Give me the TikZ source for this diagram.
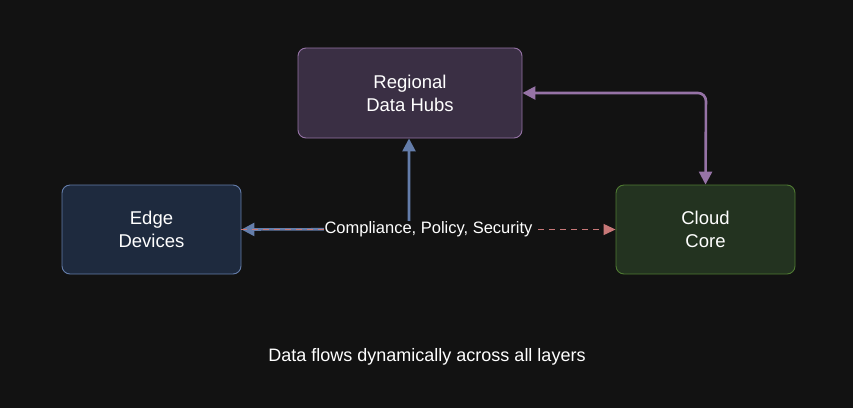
\documentclass[tikz,border=0pt]{standalone}
\usepackage{fontspec}
\setmainfont{Liberation Sans}
\usetikzlibrary{arrows.meta}
\definecolor{bg}{HTML}{121212}
\begin{document}
\begin{tikzpicture}[x=1pt,y=-1pt,
  box/.style={draw,rounded corners=8pt,line width=0.9pt,text=white,align=center,font=\fontsize{18.5}{23}\selectfont,inner sep=0pt},
  one/.style={-{Triangle[length=12pt,width=11pt]}},
  two/.style={{Triangle[length=13pt,width=13pt]}-{Triangle[length=13pt,width=13pt]}},
  lab/.style={text=white,font=\fontsize{16.5}{19}\selectfont}]
\fill[bg] (0,0) rectangle (853,408);
\useasboundingbox (0,0) rectangle (853,408);
\node[box,fill={rgb,255:red,58;green,47;blue,68},draw={rgb,255:red,150;green,115;blue,166},minimum width=224pt,minimum height=90pt] (hub) at (410,93) {Regional\\Data Hubs};
\node[box,fill={rgb,255:red,30;green,42;blue,62},draw={rgb,255:red,100;green,125;blue,170},minimum width=179pt,minimum height=89pt] (edge) at (151.5,229.5) {Edge\\Devices};
\node[box,fill={rgb,255:red,35;green,51;blue,32},draw={rgb,255:red,79;green,122;blue,50},minimum width=179pt,minimum height=89pt] (cloud) at (705.5,229.5) {Cloud\\Core};
\coordinate (bend) at (409,229);
\draw[two,line width=2.6pt,draw={rgb,255:red,100;green,125;blue,170}] (edge.east) -- (bend) -- (hub.south -| bend);
\draw[one,dash pattern=on 6pt off 5pt,line width=1.3pt,draw={rgb,255:red,200;green,120;blue,120}] (edge.east) -- node[lab,fill=bg,inner sep=1pt]{Compliance, Policy, Security} (cloud.west);
\draw[two,line width=2.6pt,draw={rgb,255:red,150;green,115;blue,166},rounded corners=8pt] (hub.east) -- (706,93) -- (cloud.north);
\node[lab,font=\fontsize{18}{22}\selectfont] (note) at (427,357) {Data flows dynamically across all layers};
\end{tikzpicture}
\end{document}
